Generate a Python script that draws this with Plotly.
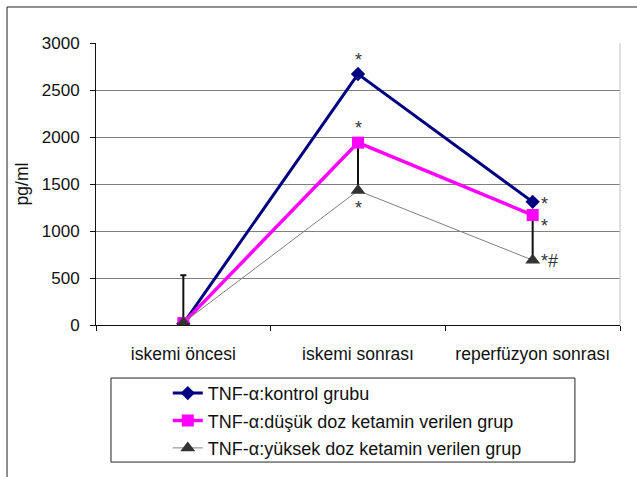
import plotly.graph_objects as go

categories = ["iskemi öncesi", "iskemi sonrası", "reperfüzyon sonrası"]
kontrol = [15, 2670, 1310]
dusuk = [20, 1940, 1170]
yuksek = [25, 1430, 690]
yuksek_err = [505, 510, 480]
names = ["TNF-α:kontrol grubu", "TNF-α:düşük doz ketamin verilen grup",
         "TNF-α:yüksek doz ketamin verilen grup"]
y_ticks = [0, 500, 1000, 1500, 2000, 2500, 3000]

FONT = "Liberation Sans, Arial, sans-serif"
TXT = "#111111"

fig = go.Figure()

# error bars (drawn first so markers sit on top)
fig.add_trace(go.Scatter(
    x=categories, y=yuksek, mode="markers",
    marker=dict(size=1, opacity=0), showlegend=False, hoverinfo="skip",
    error_y=dict(type="data", array=yuksek_err, arrayminus=[0, 0, 0],
                 symmetric=False, color="#111111", thickness=2, width=3)))

fig.add_trace(go.Scatter(
    x=categories, y=kontrol, mode="lines+markers", name=names[0],
    legendgroup="a", legendrank=1,
    line=dict(color="#000080", width=3),
    marker=dict(symbol="diamond", size=11, color="#000080")))
fig.add_trace(go.Scatter(
    x=categories, y=dusuk, mode="lines+markers", name=names[1],
    legendgroup="b", legendrank=2,
    line=dict(color="#FF00FF", width=3.5),
    marker=dict(symbol="square", size=12, color="#FF00FF")))
fig.add_trace(go.Scatter(
    x=categories, y=yuksek, mode="lines+markers", name=names[2],
    legendgroup="c", legendrank=3,
    line=dict(color="#808080", width=1),
    marker=dict(symbol="triangle-up", size=13, color="#333333")))

star_font = dict(family=FONT, size=18, color="#333333")
anns = [
    (categories[1], kontrol[1], "*", "center", 0, 14),
    (categories[1], dusuk[1], "*", "center", 0, 15),
    (categories[1], yuksek[1], "*", "center", 0, -17),
    (categories[2], kontrol[2], "*", "left", 6, -2),
    (categories[2], dusuk[2], "*", "left", 6, -11),
    (categories[2], yuksek[2], "*#", "left", 6, -1),
]
for x, y, t, xa, xs, ys in anns:
    fig.add_annotation(x=x, y=y, text=t, showarrow=False, xanchor=xa,
                       yanchor="middle", xshift=xs, yshift=ys, font=star_font)

# legend frame
fig.add_shape(type="rect", xref="paper", yref="paper",
              x0=0.0286, x1=0.914, y0=-0.486, y1=-0.188,
              line=dict(color="#222222", width=1), fillcolor="rgba(0,0,0,0)")
# outer frame
fig.add_shape(type="rect", xref="paper", yref="paper",
              x0=-0.1698, x1=1.06, y0=-0.6, y1=1.1277,
              line=dict(color="#222222", width=1), fillcolor="rgba(0,0,0,0)")
# right border of plot area
fig.add_shape(type="line", xref="paper", yref="paper",
              x0=1, x1=1, y0=0, y1=1, line=dict(color="#c0c0c0", width=1))

fig.update_layout(
    width=637, height=477,
    margin=dict(l=96, r=17, t=43, b=152, autoexpand=False),
    paper_bgcolor="white", plot_bgcolor="white",
    font=dict(family=FONT, size=17, color=TXT),
    showlegend=True,
    legend=dict(x=0.137, y=-0.34, xanchor="left", yanchor="middle",
                bgcolor="rgba(0,0,0,0)", borderwidth=0,
                traceorder="grouped", tracegroupgap=1,
                font=dict(family=FONT, size=18, color=TXT)),
    xaxis=dict(type="category", categoryorder="array", categoryarray=categories,
               range=[-0.5, 2.5], showline=True, linecolor="#111111", linewidth=1,
               ticks="outside", ticklen=5, tickcolor="#111111", tickson="boundaries",
               showgrid=False, tickfont=dict(size=17.5), ticklabelstandoff=13,
               automargin=False),
    yaxis=dict(range=[0, 3000], tickvals=y_ticks, showline=True,
               linecolor="#111111", linewidth=1, ticks="outside", ticklen=5,
               tickcolor="#111111", showgrid=True, gridcolor="#808080",
               gridwidth=1, zeroline=False, tickfont=dict(size=17),
               ticklabelstandoff=7, automargin=False,
               title=dict(text="pg/ml", standoff=8, font=dict(size=17.5))),
)

fig.write_html("out.html", config={"displayModeBar": False},
               post_script="document.body.style.margin='0px';")
